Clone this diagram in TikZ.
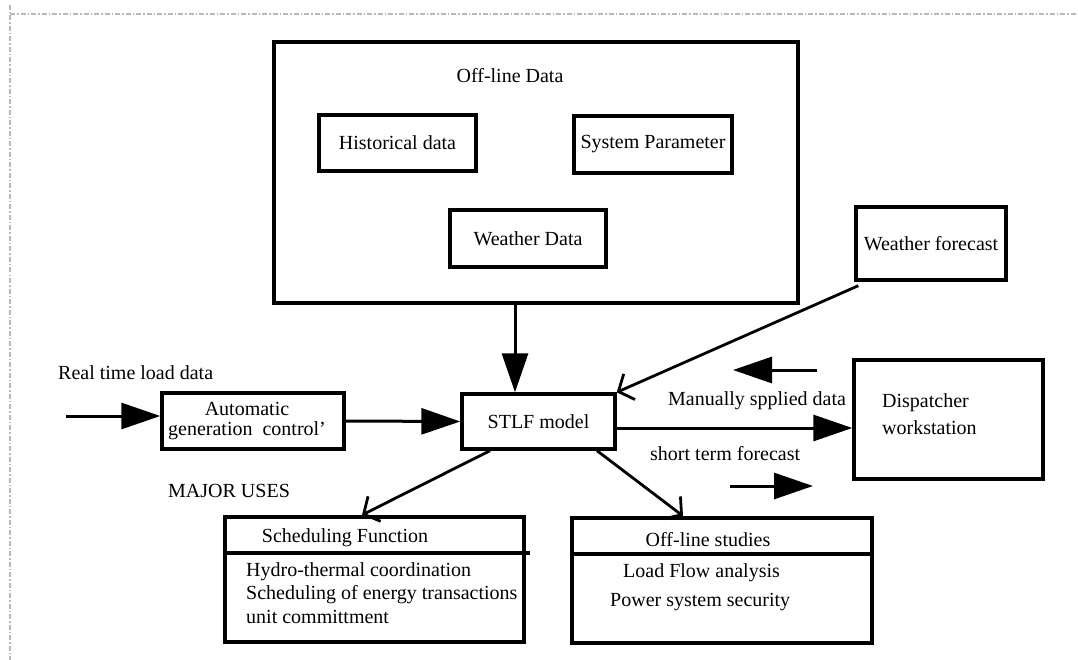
\documentclass[tikz,border=0pt]{standalone}
\usepackage{fontspec}
\setmainfont{Liberation Serif}
\usetikzlibrary{arrows.meta}
\tikzset{
  every node/.style={font=\fontsize{20}{23}\selectfont, inner sep=0pt},
  box/.style={draw, line width=3.4pt, minimum width=#1},
  lbl/.style={anchor=west},
  bigarrow/.style={line width=3pt, -{Triangle[length=39pt,width=26pt]}},
  openarrow/.style={line width=2.8pt, -{Straight Barb[length=12pt,width=28pt,line width=2.8pt]}},
  border/.style={gray!55, line width=1.3pt, dash pattern=on 5pt off 2pt on 1.5pt off 2pt},
}
\begin{document}
\begin{tikzpicture}[x=1pt,y=-1pt]
\useasboundingbox (0,0) rectangle (1078,660);
% faint dash-dot border
\coordinate (bt1) at (10,14);
\coordinate (bt2) at (1078,14);
\coordinate (bl1) at (10,5);
\coordinate (bl2) at (10,660);
\draw[border] (bt1) -- (bt2);
\draw[border] (bl1) -- (bl2);

% off-line data block
\node[box=524pt, minimum height=261pt] (offline) at (536,172.5) {};
\node (offtitle) at (510,76) {Off-line Data};
\node[box=157pt, minimum height=56pt] (hist) at (397.5,143) {Historical data};
\node[box=158pt, minimum height=57pt] (syspar) at (653,144.5) {System Parameter};
\node[box=156pt, minimum height=57pt] (wdata) at (528,238.5) {Weather Data};

% weather forecast
\node[box=150pt, minimum height=73pt] (wf) at (931,243.5) {Weather forecast};

% STLF and AGC
\node[box=153pt, minimum height=55pt] (stlf) at (538.5,421.5) {STLF model};
\node[box=182pt, minimum height=56pt] (agc) at (253,421) {};
\node (agc1) at (247,409) {Automatic};
\node (agc2) at (247,431) {generation\ \ control'};

% dispatcher
\node[box=189pt, minimum height=119pt] (disp) at (948.5,419.5) {};
\node[lbl] (disp1) at (882,403) {Dispatcher};
\node[lbl] (disp2) at (882,428) {workstation};

% labels
\node[lbl] (rt) at (58,373) {Real time load data};
\node[lbl] (major) at (168,491) {MAJOR USES};
\node[lbl] (manual) at (668,401) {Manually spplied data};
\node[lbl] (short) at (650,454) {short term forecast};

% scheduling function
\node[box=299pt, minimum height=125pt, line width=4pt] (sched) at (374.5,579.5) {};
\coordinate (schedL) at (225,553);
\coordinate (schedR) at (530,553);
\draw[line width=3.2pt] (schedL) -- (schedR);
\node (schedT) at (345,538) {Scheduling Function};
\node[lbl] (s1) at (246,572) {Hydro-thermal coordination};
\node[lbl] (s2) at (246,594.5) {Scheduling of energy transactions};
\node[lbl] (s3) at (246,617) {unit committment};

% off-line studies
\node[box=300pt, minimum height=125pt, line width=4pt] (offs) at (722,580.5) {};
\coordinate (offsL) at (572,554);
\coordinate (offsR) at (872,554);
\draw[line width=3.2pt] (offsL) -- (offsR);
\node (offsT) at (708,540) {Off-line studies};
\node[lbl] (o1) at (623,573) {Load Flow analysis};
\node[lbl] (o2) at (610,602) {Power system security};

% connectors
\coordinate (rtin) at (66,416);
\draw[bigarrow] (rtin) -- (rtin -| agc.west);
\draw[bigarrow] (agc.east) -- (stlf.west);
\coordinate (vx) at (515,0);
\draw[bigarrow] (offline.south -| vx) -- (stlf.north -| vx);
\draw[bigarrow] ([yshift=-6.5pt]stlf.east) -- ([yshift=-8.5pt]disp.west);
\coordinate (la1) at (817,370);
\coordinate (la2) at (733,370);
\draw[bigarrow] (la1) -- (la2);
\coordinate (ra1) at (730,486);
\coordinate (ra2) at (813,486);
\draw[bigarrow] (ra1) -- (ra2);
\draw[openarrow] ([xshift=4pt,yshift=-4pt]wf.south west) -- (stlf.north east);
\draw[openarrow] ([xshift=-48.5pt]stlf.south) -- ([xshift=-12.5pt]sched.north);
\draw[openarrow] ([xshift=58.5pt]stlf.south) -- ([xshift=-39pt]offs.north);
\end{tikzpicture}
\end{document}
